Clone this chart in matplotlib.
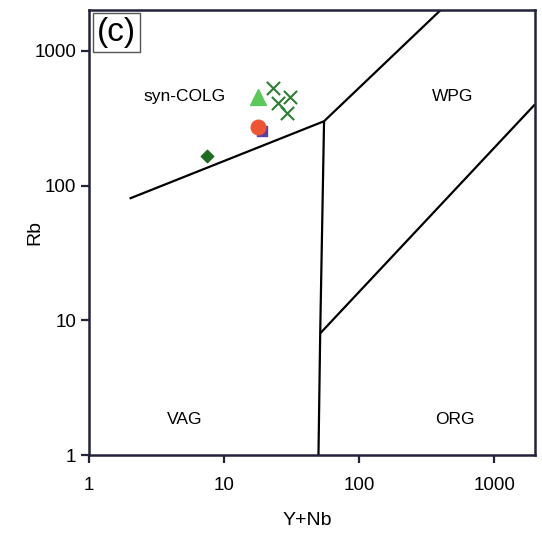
import matplotlib
matplotlib.use('Agg')
from matplotlib import pyplot as plt
from matplotlib.ticker import FixedLocator, NullLocator, FixedFormatter

plt.rcParams['font.family'] = ['Liberation Sans', 'DejaVu Sans']

# field boundaries (Pearce et al. 1984)
colg_x = [2, 55]
colg_y = [80, 300]
wpg_x = [55, 400]
wpg_y = [300, 2000]
vag_org_x = [55, 51.5, 50]
vag_org_y = [300, 8, 1]
org_wpg_x = [51.5, 2000]
org_wpg_y = [8, 400]

# samples
cross_x = [23.2, 31, 25.2, 29.4]
cross_y = [528, 453, 409, 345]
tri_x, tri_y = [17.9], [453]
circ_x, circ_y = [17.9], [271]
sq_x, sq_y = [19.2], [253]
dia_x, dia_y = [7.5], [165]

ticks = [1, 10, 100, 1000]
tick_labels = ['1', '10', '100', '1000']
field_names = ['syn-COLG', 'WPG', 'VAG', 'ORG']
field_pos = [(0.215, 0.807), (0.816, 0.807), (0.215, 0.079), (0.821, 0.079)]

edge = '#22223a'

fig = plt.figure(figsize=(5.42, 5.36), dpi=100)
ax = fig.add_axes([0.164, 0.151, 0.823, 0.830])
ax.set_xscale('log')
ax.set_yscale('log')
ax.set_xlim(1, 2000)
ax.set_ylim(1, 2000)

for xs, ys in [(colg_x, colg_y), (wpg_x, wpg_y), (vag_org_x, vag_org_y), (org_wpg_x, org_wpg_y)]:
    ax.plot(xs, ys, color='black', lw=1.6, solid_capstyle='butt')

ax.scatter(cross_x, cross_y, marker='x', s=90, color='#2e7d32', linewidths=1.5, zorder=3)
ax.scatter(tri_x, tri_y, marker='^', s=130, color='#5cc85a', zorder=3)
ax.scatter(sq_x, sq_y, marker='s', s=60, color='#5a3fa6', zorder=3)
ax.scatter(circ_x, circ_y, marker='o', s=110, color='#ee5535', zorder=4)
ax.scatter(dia_x, dia_y, marker='D', s=40, color='#1f6b22', zorder=3)

for name, (fx, fy) in zip(field_names, field_pos):
    ax.text(fx, fy, name, transform=ax.transAxes, ha='center', va='center', fontsize=12.5)

ax.text(0.018, 0.984, '(c)', transform=ax.transAxes, ha='left', va='top', fontsize=24,
        bbox=dict(boxstyle='square,pad=0.12', fc='white', ec='#555555', lw=1))

for axis in (ax.xaxis, ax.yaxis):
    axis.set_major_locator(FixedLocator(ticks))
    axis.set_major_formatter(FixedFormatter(tick_labels))
    axis.set_minor_locator(NullLocator())

ax.tick_params(direction='out', length=6, width=1.6, labelsize=13.5, color=edge, pad=3)
ax.tick_params(axis='x', pad=10)
for s in ax.spines.values():
    s.set_linewidth(1.8)
    s.set_color(edge)

ax.set_xlabel('Y+Nb', fontsize=14)
ax.set_ylabel('Rb', fontsize=14)
ax.xaxis.set_label_coords(0.49, -0.128)
ax.yaxis.set_label_coords(-0.103, 0.5)

fig.savefig('out.png', dpi=100)
